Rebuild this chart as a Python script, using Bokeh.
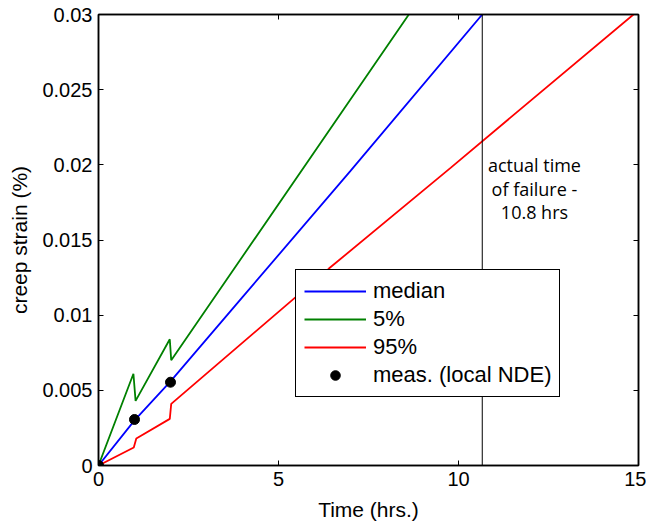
from bokeh.plotting import figure
from bokeh.models import Range1d, FixedTicker, LinearAxis, Legend, LegendItem, Span, Label
from bokeh.embed import file_html
from bokeh.resources import INLINE

# ---- data ----
median_t = [0, 1, 2, 4, 7, 10.66]
median_s = [0, 0.0030, 0.0056, 0.0112, 0.0196, 0.0300]

p5_t = [0, 0.97, 1.03, 1.98, 2.02, 8.62]
p5_s = [0, 0.0061, 0.0043, 0.0084, 0.0070, 0.0300]

p95_t = [0, 0.98, 1.05, 1.98, 2.02, 6.4, 9.78, 14.86]
p95_s = [0, 0.0012, 0.0018, 0.0031, 0.0041, 0.0131, 0.0198, 0.0300]

meas_t = [0, 1, 2]
meas_s = [0, 0.00306, 0.00554]

failure_time = 10.66
failure_lines = ["actual time", "of failure -", "10.8 hrs"]

x_ticks = [0, 5, 10, 15]
y_ticks = [0, 0.005, 0.01, 0.015, 0.02, 0.025, 0.03]
y_tick_labels = ["0", "0.005", "0.01", "0.015", "0.02", "0.025", "0.03"]

FONT = "Liberation Sans"

p = figure(width=646, height=525, x_range=Range1d(0, 15), y_range=Range1d(0, 0.03),
           output_backend="svg", toolbar_location=None,
           min_border_left=98, min_border_right=8, min_border_top=14, min_border_bottom=60)
p.xgrid.visible = False
p.ygrid.visible = False
p.outline_line_color = "black"
p.outline_line_width = 1.5
p.outline_line_alpha = 1

r_med = p.line(median_t, median_s, line_color="#0000ff", line_width=1.8)
r_5 = p.line(p5_t, p5_s, line_color="#008000", line_width=1.8)
r_95 = p.line(p95_t, p95_s, line_color="#ff0000", line_width=1.8)
p.add_layout(Span(location=failure_time, dimension="height", line_color="black", line_width=1))
r_meas = p.scatter(meas_t, meas_s, size=10, fill_color="black", line_color="black")

# annotation: three lines, 23.5 px apart (0.0300 data units = 451 px)
line_step = 0.03 * 23.5 / 451
for i, txt in enumerate(failure_lines):
    p.add_layout(Label(x=12.11, y=0.01996 - i * line_step, text=txt, text_align="center",
                       text_baseline="middle", text_font="Open Sans", text_font_size="18px",
                       text_color="black"))

def style(ax, fs="20px"):
    ax.axis_line_color = "black"
    ax.axis_line_width = 1.5
    ax.major_tick_in = 5
    ax.major_tick_out = 0
    ax.major_tick_line_color = "black"
    ax.minor_tick_line_color = None
    ax.major_label_text_font = FONT
    ax.major_label_text_font_size = fs
    ax.major_label_text_color = "black"
    ax.axis_label_text_font = FONT
    ax.axis_label_text_font_size = "21px"
    ax.axis_label_text_font_style = "normal"
    ax.axis_label_text_color = "black"

xa = p.xaxis[0]
ya = p.yaxis[0]
style(xa)
style(ya)
xa.ticker = FixedTicker(ticks=x_ticks)
ya.ticker = FixedTicker(ticks=y_ticks)
ya.major_label_overrides = {v: s for v, s in zip(y_ticks, y_tick_labels)}
xa.axis_label = "Time (hrs.)"
ya.axis_label = "creep strain (%)"
xa.major_label_standoff = 6
xa.axis_label_standoff = 9
ya.major_label_standoff = 6
ya.axis_label_standoff = 8

top = LinearAxis(ticker=FixedTicker(ticks=x_ticks), major_label_standoff=0,
                 major_label_overrides={v: "" for v in x_ticks})
right = LinearAxis(ticker=FixedTicker(ticks=y_ticks), major_label_standoff=0,
                   major_label_overrides={v: "" for v in y_ticks})
style(top)
style(right)
p.add_layout(top, "above")
p.add_layout(right, "right")

legend = Legend(items=[LegendItem(label="median", renderers=[r_med]),
                       LegendItem(label="5%", renderers=[r_5]),
                       LegendItem(label="95%", renderers=[r_95]),
                       LegendItem(label="meas. (local NDE)", renderers=[r_meas])],
                location=(197, 68), margin=0, padding=8, spacing=2,
                glyph_width=62, glyph_height=24, label_height=24, label_standoff=7,
                label_text_font=FONT, label_text_font_size="22px", label_text_color="black",
                border_line_color="black", border_line_width=1.5, border_line_alpha=1,
                background_fill_alpha=1)
p.add_layout(legend)

open("out.html", "w").write(file_html(p, INLINE))
